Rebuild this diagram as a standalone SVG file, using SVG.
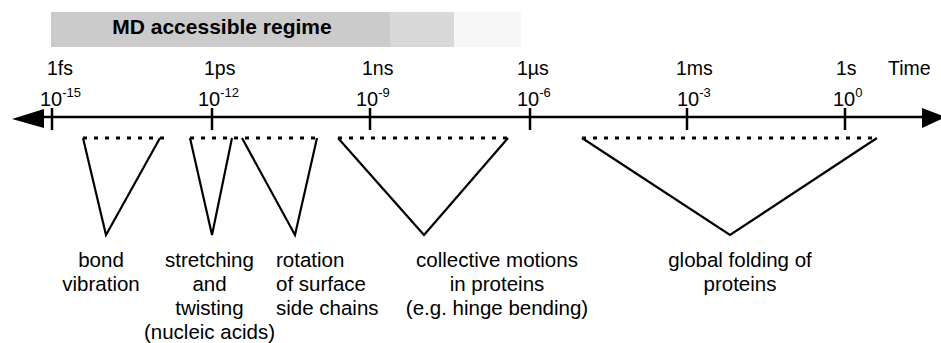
<svg xmlns="http://www.w3.org/2000/svg" width="941" height="343" viewBox="0 0 941 343">
<style>
text{font-family:"Liberation Sans",Arial,sans-serif;fill:#000}
.t{font-size:19.5px}
.e{font-size:20px}
.s{font-size:13px}
.l{font-size:20.5px;text-anchor:middle}
.la{font-size:20.5px}
.ax{stroke:#000;stroke-width:2.5;fill:none}
.tick{stroke:#000;stroke-width:2.5}
.dot{stroke:#000;stroke-width:2.8;stroke-dasharray:4 7;fill:none}
.v{stroke:#000;stroke-width:2.2;fill:none}
</style>
<g id="md-regime">
<rect x="51" y="12" width="339" height="35" fill="#cbcbcb"/>
<rect x="390" y="12" width="64" height="35" fill="#d8d8d8"/>
<rect x="454" y="12" width="67" height="35" fill="#f6f6f6"/>
<text x="222" y="33.5" font-size="21" font-weight="bold" text-anchor="middle">MD accessible regime</text>
</g>
<g id="time-axis">
<line class="ax" x1="42" y1="117" x2="924" y2="117"/>
<polygon points="12,119 44,109 44,128" fill="#000"/>
<polygon points="922,108 946,117 922,128" fill="#000"/>
<line class="tick" x1="52" y1="108" x2="52" y2="130"/>
<line class="tick" x1="212" y1="108" x2="212" y2="130"/>
<line class="tick" x1="370" y1="108" x2="370" y2="130"/>
<line class="tick" x1="530" y1="108" x2="530" y2="130"/>
<line class="tick" x1="687" y1="108" x2="687" y2="130"/>
<line class="tick" x1="845" y1="108" x2="845" y2="130"/>
<text class="t" x="47" y="75">1fs</text>
<text class="t" x="204" y="75">1ps</text>
<text class="t" x="362" y="75">1ns</text>
<text class="t" x="517" y="75">1µs</text>
<text class="t" x="676" y="75">1ms</text>
<text class="t" x="836" y="75">1s</text>
<text class="t" x="888" y="75">Time</text>
<text class="e" x="40" y="106">10<tspan class="s" dy="-9">-15</tspan></text>
<text class="e" x="198" y="106">10<tspan class="s" dy="-9">-12</tspan></text>
<text class="e" x="356" y="106">10<tspan class="s" dy="-9">-9</tspan></text>
<text class="e" x="517" y="106">10<tspan class="s" dy="-9">-6</tspan></text>
<text class="e" x="677" y="106">10<tspan class="s" dy="-9">-3</tspan></text>
<text class="e" x="833" y="106">10<tspan class="s" dy="-9">0</tspan></text>
</g>
<g id="connectors">
<line class="dot" x1="83" y1="138" x2="170" y2="138"/>
<line class="dot" x1="190" y1="138" x2="317" y2="138"/>
<line class="dot" x1="338" y1="138" x2="508" y2="138"/>
<line class="dot" x1="582" y1="138" x2="877" y2="138"/>
<polyline class="v" points="83,138 106,235 160,138"/>
<polyline class="v" points="190,138 212,235 232,138"/>
<polyline class="v" points="242,138 295,235 317,138"/>
<polyline class="v" points="338,138 424,235 508,138"/>
<polyline class="v" points="582,138 730,235 877,138"/>
</g>
<g id="bond-vibration">
<text class="l" x="101" y="266.5">bond</text>
<text class="l" x="101" y="290.5">vibration</text>
</g>
<g id="stretching-twisting">
<text class="l" x="209.5" y="266.5">stretching</text>
<text class="l" x="209.5" y="290.5">and</text>
<text class="l" x="209.5" y="314.5">twisting</text>
<text class="l" x="209.5" y="338.5">(nucleic acids)</text>
</g>
<g id="side-chain-rotation">
<text class="la" x="276" y="266.5">rotation</text>
<text class="la" x="276" y="290.5">of surface</text>
<text class="la" x="276" y="314.5">side chains</text>
</g>
<g id="collective-motions">
<text class="l" x="497" y="266.5">collective motions</text>
<text class="l" x="497" y="290.5">in proteins</text>
<text class="l" x="497" y="314.5">(e.g. hinge bending)</text>
</g>
<g id="global-folding">
<text class="l" x="740" y="266.5">global folding of</text>
<text class="l" x="740" y="290.5">proteins</text>
</g>
</svg>
